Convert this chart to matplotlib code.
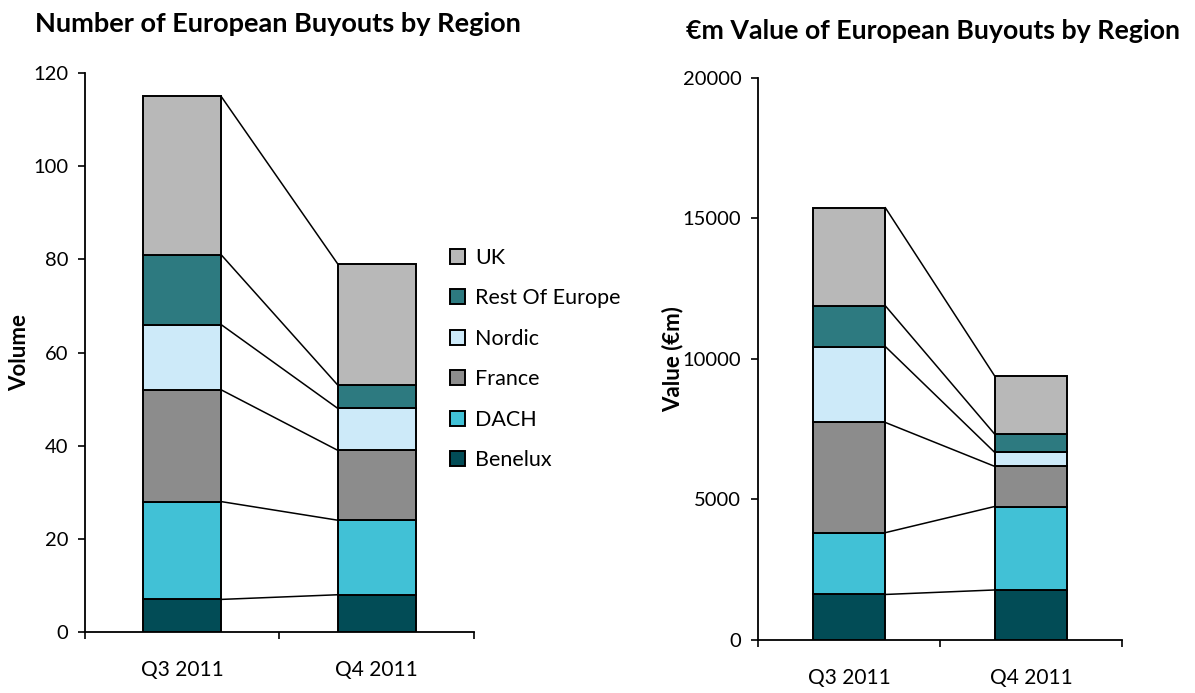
import numpy as np
import matplotlib.pyplot as plt
from matplotlib.patches import Patch

plt.rcParams['font.family'] = ['Lato', 'DejaVu Sans']

quarters = ["Q3 2011", "Q4 2011"]
regions = ["Benelux", "DACH", "France", "Nordic", "Rest Of Europe", "UK"]
colors = ["#024c56", "#41c1d6", "#8c8c8c", "#cdeaf9", "#2d7a80", "#b8b8b8"]

# number of buyouts, stacked bottom -> top in the order of `regions`
volume_q3 = [7, 21, 24, 14, 15, 34]
volume_q4 = [8, 16, 15, 9, 5, 26]

# value in EUR m
value_q3 = [1620, 2200, 3920, 2700, 1450, 3490]
value_q4 = [1780, 2970, 1430, 500, 650, 2070]

W = 0.40


def stacked(ax, q3, q4, ymax, ystep):
    data = np.array([q3, q4]).T          # regions x quarters
    x = np.arange(len(quarters))
    bottom = np.zeros(len(quarters))
    for i, reg in enumerate(regions):
        ax.bar(x, data[i], W, bottom=bottom, color=colors[i],
               edgecolor="black", linewidth=1.4, zorder=3)
        bottom = bottom + data[i]
        # connector from Q3 segment top to Q4 segment top
        ax.plot([x[0] + W / 2, x[1] - W / 2], [bottom[0], bottom[1]],
                color="black", linewidth=1.1, zorder=2)
    ax.set_xlim(-0.5, 1.5)
    ax.set_ylim(0, ymax)
    ax.set_yticks(np.arange(0, ymax + 1, ystep))
    ax.set_xticks([-0.5, 0.5, 1.5])
    ax.set_xticklabels([])
    ax.set_xticks(x, minor=True)
    ax.set_xticklabels(quarters, minor=True, fontsize=15)
    ax.tick_params(axis="x", which="minor", length=0, pad=20)
    ax.tick_params(axis="x", which="major", direction="out", length=5, width=1.2)
    ax.tick_params(axis="y", direction="out", length=5, width=1.2, labelsize=14.5, pad=7)
    for s in ["top", "right"]:
        ax.spines[s].set_visible(False)
    for s in ["left", "bottom"]:
        ax.spines[s].set_linewidth(1.3)


fig = plt.figure(figsize=(11.95, 6.93), dpi=100)

ax1 = fig.add_axes([0.0711, 0.0880, 0.3255, 0.8066])
stacked(ax1, volume_q3, volume_q4, 120, 20)
ax1.set_ylabel("Volume", fontsize=16, fontweight="bold")
ax1.yaxis.set_label_coords(-0.141, 0.5)

ax2 = fig.add_axes([0.6343, 0.0765, 0.3046, 0.8110])
stacked(ax2, value_q3, value_q4, 20000, 5000)
ax2.set_ylabel("Value (€m)", fontsize=16, fontweight="bold")
ax2.yaxis.set_label_coords(-0.206, 0.5)

fig.text(0.029, 0.966, "Number of European Buyouts by Region",
         fontsize=19.5, fontweight="bold", ha="left", va="center")
fig.text(0.574, 0.955, "€m Value of European Buyouts by Region",
         fontsize=19.3, fontweight="bold", ha="left", va="center")

handles = [Patch(facecolor=c, edgecolor="black", linewidth=1.4) for c in colors]
fig.legend(handles[::-1], regions[::-1], loc="upper left",
           bbox_to_anchor=(450 / 1195, 1 - 248 / 693), frameon=False,
           fontsize=15.5, handlelength=0.7, handleheight=0.7,
           handletextpad=0.45, labelspacing=0.95, borderpad=0, borderaxespad=0)

fig.savefig("out.png", dpi=100)
